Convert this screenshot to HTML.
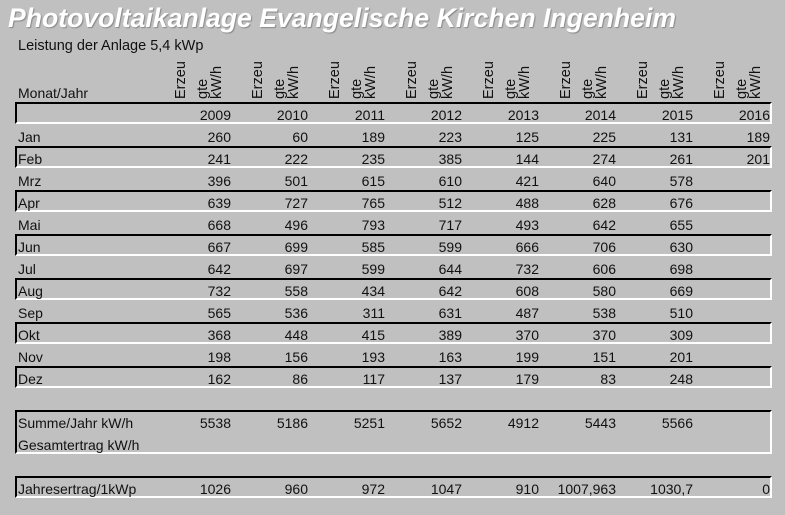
<!DOCTYPE html>
<html><head><meta charset="utf-8"><style>
body{margin:0;width:785px;height:515px;background:#c0c0c0;position:relative;overflow:hidden;font-family:"Liberation Sans",Arial,sans-serif;font-size:14px;color:#111}
.a{position:absolute;white-space:nowrap}
.t{left:8px;top:3px;font-size:26.6px;font-weight:bold;font-style:italic;color:#fff;text-shadow:1px 1px 1px #888}
.box{position:absolute;left:15px;width:757px;border-top:2px solid #000;border-left:2px solid #000;border-bottom:2px solid #fff;border-right:2px solid #fff;box-sizing:border-box}
.r{position:absolute;text-align:right;width:70px;line-height:22px;padding-top:2px}
.l{position:absolute;left:18px;line-height:22px;padding-top:2px}
.v{position:absolute;top:99px;transform-origin:0 0;transform:rotate(-90deg);line-height:15px;font-size:14.5px}
</style></head><body>
<div class="a t">Photovoltaikanlage Evangelische Kirchen Ingenheim</div>
<div class="a" style="left:18px;top:38px;font-size:14.5px">Leistung der Anlage 5,4 kWp</div>
<div class="a" style="left:18px;top:85px;font-size:14px">Monat/Jahr</div>
<div id="c"></div>
<script>
var c=document.getElementById('c'),h='';
var rights=[231,308,385,462,539,616,693,770];
rights.forEach(function(r){
 h+='<div class="v" style="left:'+(r-57)+'px">Erzeu</div>';
 h+='<div class="v" style="left:'+(r-35)+'px">gte</div>';
 h+='<div class="v" style="left:'+(r-21)+'px">kW/h</div>';
});
function row(top,label,vals,boxed,hgt){
 if(boxed)h+='<div class="box" style="top:'+top+'px;height:'+(hgt||22)+'px"></div>';
 if(label)h+='<div class="l" style="top:'+top+'px">'+label+'</div>';
 vals.forEach(function(v,i){if(v!=='')h+='<div class="r" style="top:'+top+'px;left:'+(rights[i]-70)+'px">'+v+'</div>';});
}
row(102,'',['2009','2010','2011','2012','2013','2014','2015','2016'],true);
var d=[['Jan',260,60,189,223,125,225,131,189],['Feb',241,222,235,385,144,274,261,201],['Mrz',396,501,615,610,421,640,578,''],['Apr',639,727,765,512,488,628,676,''],['Mai',668,496,793,717,493,642,655,''],['Jun',667,699,585,599,666,706,630,''],['Jul',642,697,599,644,732,606,698,''],['Aug',732,558,434,642,608,580,669,''],['Sep',565,536,311,631,487,538,510,''],['Okt',368,448,415,389,370,370,309,''],['Nov',198,156,193,163,199,151,201,''],['Dez',162,86,117,137,179,83,248,'']];
d.forEach(function(r,i){row(124+22*i,r[0],r.slice(1).map(String),i%2==1);});
row(410,'Summe/Jahr kW/h',['5538','5186','5251','5652','4912','5443','5566',''],true,44);
h+='<div class="l" style="top:432px">Gesamtertrag kW/h</div>';
row(476,'Jahresertrag/1kWp',['1026','960','972','1047','910','1007,963','1030,7','0'],true);
c.innerHTML=h;
</script>
</body></html>
